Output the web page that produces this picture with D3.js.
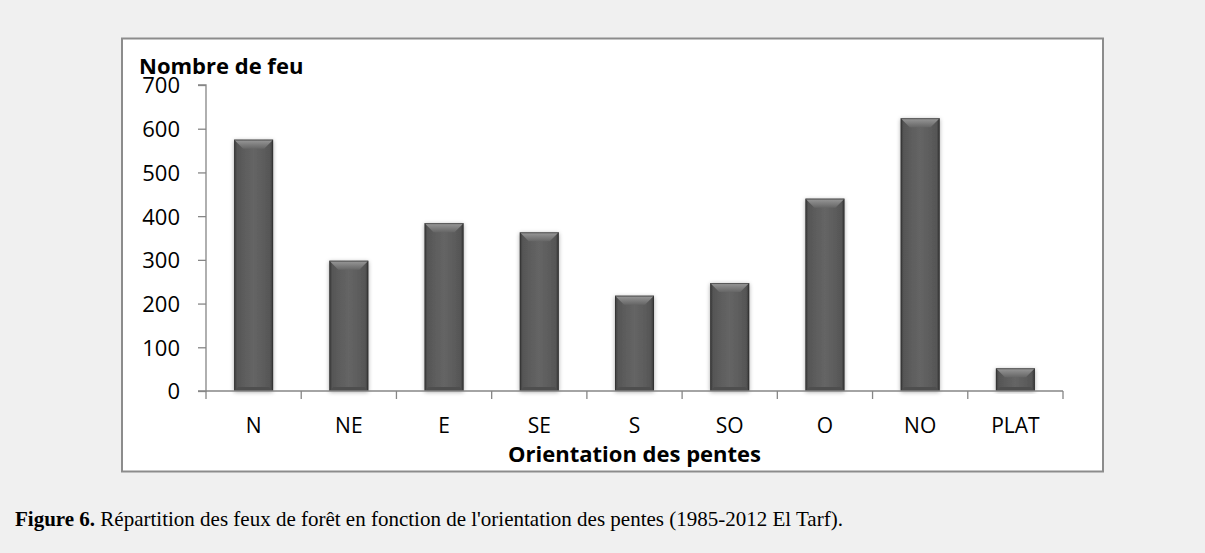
<!DOCTYPE html>
<html><head><meta charset="utf-8">
<script src="https://cdn.jsdelivr.net/npm/d3@7"></script>
<style>
html,body{margin:0;padding:0;background:#f0f0f0;}
svg{display:block;}
</style></head>
<body>
<svg id="c" width="1205" height="553"></svg>
<script>
const categories = ["N","NE","E","SE","S","SO","O","NO","PLAT"];
const values = [575, 298, 384, 363, 218, 247, 440, 624, 52];
const yTicks = [0,100,200,300,400,500,600,700];
const yTitle = "Nombre de feu";
const xTitle = "Orientation des pentes";
const captionBold = "Figure 6.";
const captionText = " Répartition des feux de forêt en fonction de l'orientation des pentes (1985-2012 El Tarf).";

(function(){
const svg = d3.select("#c");
const W = 1205, H = 553;
svg.append("rect").attr("width",W).attr("height",H).attr("fill","#f0f0f0");

// chart box
svg.append("rect").attr("x",122).attr("y",38.5).attr("width",981).attr("height",433)
  .attr("fill","#fff").attr("stroke","#8c8c8c").attr("stroke-width",2);

const pL = 206, pR = 1063, pT = 85, pB = 391;
const x = d3.scaleBand().domain(categories).range([pL,pR]).paddingInner(0).paddingOuter(0);
const y = d3.scaleLinear().domain([0,700]).range([pB,pT]);

const defs = svg.append("defs");
const g1 = defs.append("linearGradient").attr("id","barH").attr("x1","0").attr("x2","1").attr("y1","0").attr("y2","0");
[["0%","#3a3a3a"],["8%","#565656"],["50%","#656565"],["92%","#565656"],["100%","#353535"]].forEach(s=>g1.append("stop").attr("offset",s[0]).attr("stop-color",s[1]));
const g2 = defs.append("linearGradient").attr("id","bevel").attr("x1","0").attr("x2","0").attr("y1","0").attr("y2","1");
[["0%","#9a9a9a"],["100%","#666"]].forEach(s=>g2.append("stop").attr("offset",s[0]).attr("stop-color",s[1]));
const f = defs.append("filter").attr("id","sh").attr("x","-30%").attr("y","-10%").attr("width","160%").attr("height","120%");
f.append("feDropShadow").attr("dx",0).attr("dy",1).attr("stdDeviation",2.2).attr("flood-color","#000").attr("flood-opacity",0.35);

const bw = 39;
const bars = svg.append("g").selectAll("g").data(categories).join("g");
bars.each(function(c,i){
  const g = d3.select(this);
  const x0 = x(c) + x.bandwidth()/2 - bw/2;
  const yt = y(values[i]);
  const h = pB - yt;
  g.append("rect").attr("x",x0).attr("y",yt).attr("width",bw).attr("height",h)
    .attr("fill","url(#barH)").attr("filter","url(#sh)");
  const bv = Math.min(9, h/2);
  g.append("path").attr("d",`M${x0},${yt}L${x0+bw},${yt}L${x0+bw-bv},${yt+bv}L${x0+bv},${yt+bv}Z`)
    .attr("fill","url(#bevel)");
  g.append("path").attr("d",`M${x0},${pB}L${x0+bw},${pB}L${x0+bw-4},${pB-4}L${x0+4},${pB-4}Z`)
    .attr("fill","#4e4e4e");
  g.append("rect").attr("x",x0+0.5).attr("y",yt+0.5).attr("width",bw-1).attr("height",h-1)
    .attr("fill","none").attr("stroke","#2e2e2e").attr("stroke-width",1).attr("stroke-opacity",0.6);
});

// Y axis
const yAxis = d3.axisLeft(y).tickValues(yTicks).tickSize(8).tickPadding(18);
const ya = svg.append("g").attr("transform",`translate(${pL},0)`).call(yAxis);
ya.selectAll("path,line").attr("stroke","#868686").attr("stroke-width",1.3);
ya.select(".domain").attr("d",`M-8,${pT}H0V${pB}H-8`);
ya.selectAll("text").attr("font-family","'Open Sans', sans-serif").attr("font-size",22).attr("fill","#000").attr("dy","0.36em");

// X axis
const xAxis = d3.axisBottom(x).tickSize(0).tickPadding(0);
const xa = svg.append("g").attr("transform",`translate(0,${pB})`).call(xAxis);
xa.select(".domain").attr("d",`M${pL},0H${pR}`).attr("stroke","#868686").attr("stroke-width",1.3);
xa.selectAll("text").attr("font-family","'Open Sans', sans-serif").attr("font-size",21).attr("fill","#000")
  .attr("y",42).attr("dy",0);
const bnds = categories.map(c=>x(c)).concat([pR]);
xa.selectAll(".bt").data(bnds).join("line").attr("class","bt")
  .attr("x1",d=>d).attr("x2",d=>d).attr("y1",0).attr("y2",8).attr("stroke","#868686").attr("stroke-width",1.3);

svg.append("text").attr("x",139).attr("y",74).text(yTitle)
  .attr("font-family","'Open Sans', sans-serif").attr("font-weight","bold").attr("font-size",22).attr("fill","#000");
svg.append("text").attr("x",(pL+pR)/2).attr("y",462).attr("text-anchor","middle").text(xTitle)
  .attr("font-family","'Open Sans', sans-serif").attr("font-weight","bold").attr("font-size",22).attr("fill","#000");

const cap = svg.append("text").attr("x",15).attr("y",526)
  .attr("font-family","'Liberation Serif','Times New Roman',serif").attr("font-size",21).attr("fill","#000");
cap.append("tspan").attr("font-weight","bold").text(captionBold);
cap.append("tspan").text(captionText);
})();
</script>
</body></html>
